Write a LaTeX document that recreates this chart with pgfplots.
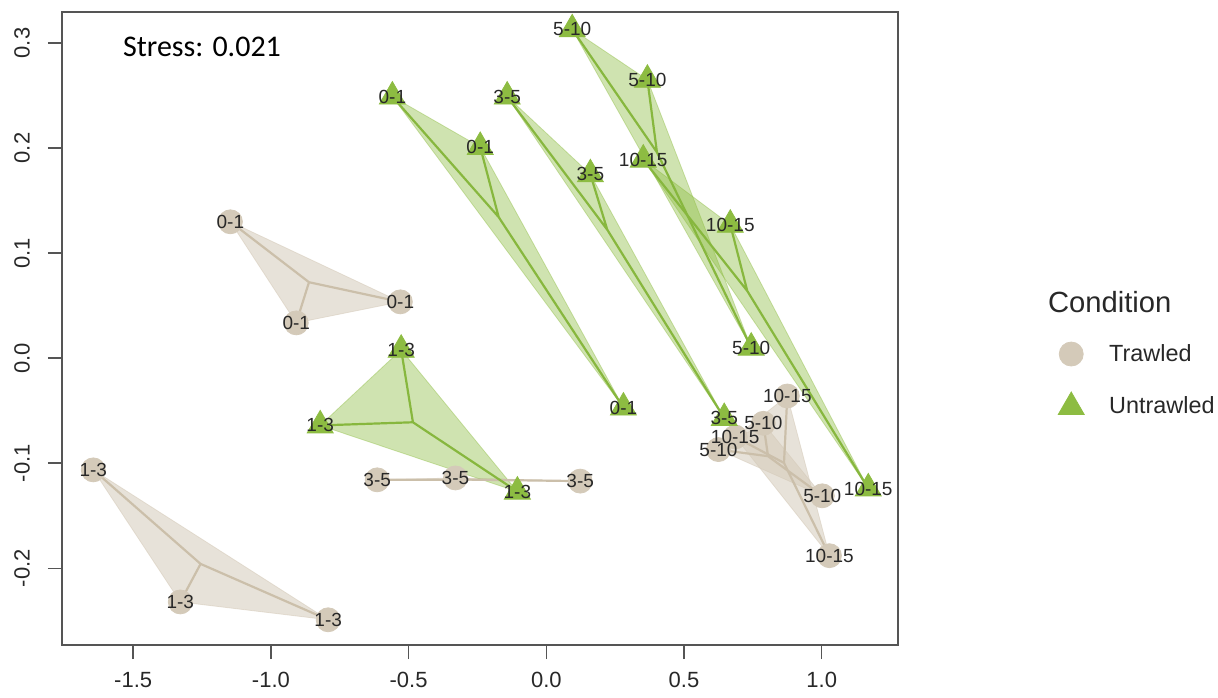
\documentclass[border=0pt]{standalone}
\usepackage{fontspec}
\setmainfont{Liberation Sans}
\newfontfamily\calibri{Carlito}
\usepackage{pgfplots}
\pgfplotsset{compat=1.18}
\usepackage{pgfplotstable}

\definecolor{trawl}{RGB}{212,202,185}
\definecolor{trawlline}{RGB}{203,191,170}
\definecolor{untrawl}{RGB}{141,188,66}
\definecolor{untrawlline}{RGB}{135,183,62}
\definecolor{axisgray}{RGB}{85,85,85}
\definecolor{labgray}{RGB}{40,40,40}

% NMDS site scores, trawled plots
\pgfplotstableread{
x y lab
-1.147 0.1298 0-1
-0.530 0.0536 0-1
-0.908 0.0336 0-1
-1.645 -0.1063 1-3
-1.329 -0.232 1-3
-0.792 -0.249 1-3
-0.614 -0.1158 3-5
-0.330 -0.114 3-5
0.123 -0.117 3-5
0.625 -0.087 5-10
0.788 -0.062 5-10
1.002 -0.131 5-10
0.875 -0.036 10-15
0.686 -0.075 10-15
1.028 -0.188 10-15
}\trawled

% NMDS site scores, untrawled plots
\pgfplotstableread{
x y lab
-0.559 0.249 0-1
-0.240 0.201 0-1
0.280 -0.047 0-1
-0.527 0.008 1-3
-0.821 -0.064 1-3
-0.105 -0.127 1-3
-0.142 0.249 3-5
0.160 0.175 3-5
0.646 -0.057 3-5
0.094 0.313 5-10
0.367 0.265 5-10
0.744 0.010 5-10
0.352 0.189 10-15
0.668 0.127 10-15
1.169 -0.124 10-15
}\untrawled

\begin{document}
\begin{tikzpicture}
\useasboundingbox (0,0) rectangle (609pt,348.5pt);
\begin{axis}[
  at={(31pt,26pt)}, anchor=south west,
  scale only axis, width=418pt, height=316.5pt,
  xmin=-1.7585, xmax=1.277, ymin=-0.273, ymax=0.3295,
  clip mode=individual,
  axis line style={draw=axisgray, line width=0.75pt},
  tick style={draw=axisgray, line width=0.75pt},
  tick align=outside, major tick length=7pt,
  xtick pos=bottom, ytick pos=left,
  xtick={-1.5,-1,-0.5,0,0.5,1},
  xticklabels={-1.5,-1.0,-0.5,0.0,0.5,1.0},
  ytick={-0.2,-0.1,0,0.1,0.2,0.3},
  yticklabels={-0.2,-0.1,0.0,0.1,0.2,0.3},
  ticklabel style={font=\fontsize{11}{13}\selectfont, text=labgray},
  xticklabel shift=5.3pt,
  xticklabel style={inner sep=1pt},
  yticklabel style={rotate=90, anchor=south},
  yticklabel shift=5.6pt,
  legend style={at={(axis description cs:1.184,0.4887)}, anchor=north west,
    draw=none, fill=none, font=\fontsize{11.7}{14}\selectfont, row sep=12pt,
    text=labgray, /tikz/every odd column/.append style={column sep=10.5pt}},
  legend cell align=left,
]
% legend glyphs
\addlegendimage{only marks, mark=*, mark size=6pt, color=trawl}
\addlegendentry{Trawled}
\addlegendimage{only marks, mark=triangle*, mark size=7.5pt, color=untrawl}
\addlegendentry{Untrawled}

% convex hulls of each depth group
\addplot[forget plot, draw=trawl, fill=trawl, fill opacity=0.55, draw opacity=0.55] coordinates {(-1.147,0.1298) (-0.530,0.0536) (-0.908,0.0336) (-1.147,0.1298)};
\addplot[forget plot, draw=trawl, fill=trawl, fill opacity=0.55, draw opacity=0.55] coordinates {(-1.645,-0.1063) (-1.329,-0.232) (-0.792,-0.249) (-1.645,-0.1063)};
\addplot[forget plot, draw=trawl, fill=trawl, fill opacity=0.55, draw opacity=0.55] coordinates {(-0.614,-0.1158) (-0.330,-0.114) (0.123,-0.117) (-0.614,-0.1158)};
\addplot[forget plot, draw=trawl, fill=trawl, fill opacity=0.55, draw opacity=0.55] coordinates {(0.625,-0.087) (0.788,-0.062) (1.002,-0.131) (0.625,-0.087)};
\addplot[forget plot, draw=trawl, fill=trawl, fill opacity=0.55, draw opacity=0.55] coordinates {(0.875,-0.036) (0.686,-0.075) (1.028,-0.188) (0.875,-0.036)};
\addplot[forget plot, draw=untrawl, fill=untrawl, fill opacity=0.42, draw opacity=0.42] coordinates {(-0.559,0.249) (-0.240,0.201) (0.280,-0.047) (-0.559,0.249)};
\addplot[forget plot, draw=untrawl, fill=untrawl, fill opacity=0.42, draw opacity=0.42] coordinates {(-0.527,0.008) (-0.821,-0.064) (-0.105,-0.127) (-0.527,0.008)};
\addplot[forget plot, draw=untrawl, fill=untrawl, fill opacity=0.42, draw opacity=0.42] coordinates {(-0.142,0.249) (0.160,0.175) (0.646,-0.057) (-0.142,0.249)};
\addplot[forget plot, draw=untrawl, fill=untrawl, fill opacity=0.42, draw opacity=0.42] coordinates {(0.094,0.313) (0.367,0.265) (0.744,0.010) (0.094,0.313)};
\addplot[forget plot, draw=untrawl, fill=untrawl, fill opacity=0.42, draw opacity=0.42] coordinates {(0.352,0.189) (0.668,0.127) (1.169,-0.124) (0.352,0.189)};

% spiders: group centroid to each plot
\addplot[forget plot, trawlline, line width=1.1pt] coordinates {(-0.8617,0.0723) (-1.147,0.1298) (-0.8617,0.0723) (-0.530,0.0536) (-0.8617,0.0723) (-0.908,0.0336)};
\addplot[forget plot, trawlline, line width=1.1pt] coordinates {(-1.2553,-0.1958) (-1.645,-0.1063) (-1.2553,-0.1958) (-1.329,-0.232) (-1.2553,-0.1958) (-0.792,-0.249)};
\addplot[forget plot, trawlline, line width=1.1pt] coordinates {(-0.2737,-0.1156) (-0.614,-0.1158) (-0.2737,-0.1156) (-0.330,-0.114) (-0.2737,-0.1156) (0.123,-0.117)};
\addplot[forget plot, trawlline, line width=1.1pt] coordinates {(0.805,-0.0933) (0.625,-0.087) (0.805,-0.0933) (0.788,-0.062) (0.805,-0.0933) (1.002,-0.131)};
\addplot[forget plot, trawlline, line width=1.1pt] coordinates {(0.863,-0.0997) (0.875,-0.036) (0.863,-0.0997) (0.686,-0.075) (0.863,-0.0997) (1.028,-0.188)};
\addplot[forget plot, untrawlline, line width=1.1pt] coordinates {(-0.173,0.1343) (-0.559,0.249) (-0.173,0.1343) (-0.240,0.201) (-0.173,0.1343) (0.280,-0.047)};
\addplot[forget plot, untrawlline, line width=1.1pt] coordinates {(-0.4843,-0.061) (-0.527,0.008) (-0.4843,-0.061) (-0.821,-0.064) (-0.4843,-0.061) (-0.105,-0.127)};
\addplot[forget plot, untrawlline, line width=1.1pt] coordinates {(0.2213,0.1223) (-0.142,0.249) (0.2213,0.1223) (0.160,0.175) (0.2213,0.1223) (0.646,-0.057)};
\addplot[forget plot, untrawlline, line width=1.1pt] coordinates {(0.4017,0.196) (0.094,0.313) (0.4017,0.196) (0.367,0.265) (0.4017,0.196) (0.744,0.010)};
\addplot[forget plot, untrawlline, line width=1.1pt] coordinates {(0.7297,0.064) (0.352,0.189) (0.7297,0.064) (0.668,0.127) (0.7297,0.064) (1.169,-0.124)};

% plot scores
\addplot[forget plot, only marks, mark=*, mark size=6pt, color=trawl] table[x=x, y=y] {\trawled};
\addplot[forget plot, only marks, mark=triangle*, mark size=7.5pt, color=untrawl] table[x=x, y=y] {\untrawled};

% depth labels
\addplot[forget plot, only marks, mark=none, nodes near coords, point meta=explicit symbolic,
  every node near coord/.style={anchor=center, inner sep=0pt, text=labgray, font=\fontsize{9.5}{11}\selectfont}]
  table[x=x, y=y, meta=lab] {\trawled};
\addplot[forget plot, only marks, mark=none, nodes near coords, point meta=explicit symbolic,
  every node near coord/.style={anchor=center, inner sep=0pt, text=labgray, font=\fontsize{9.5}{11}\selectfont}]
  table[x=x, y=y, meta=lab] {\untrawled};

\node[font=\calibri\fontsize{15}{18}\selectfont, anchor=center] at (axis description cs:0.1675,0.9447) {Stress: 0.021};
\node[font=\fontsize{14.6}{17}\selectfont, anchor=west, text=labgray, inner sep=0pt] at (axis description cs:1.179,0.542) {Condition};
\end{axis}
\end{tikzpicture}
\end{document}
